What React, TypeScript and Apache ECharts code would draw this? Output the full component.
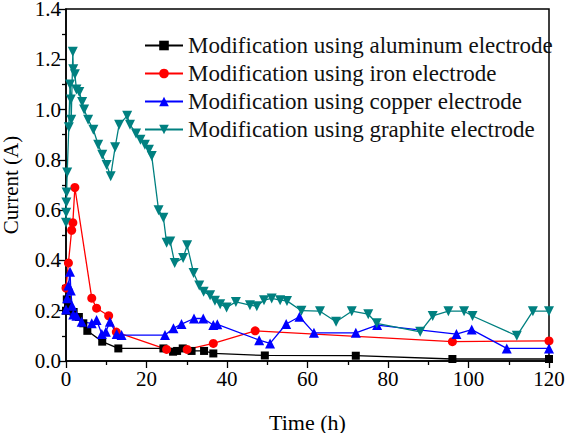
import React, { useEffect, useRef } from "react";
import * as echarts from "echarts";

const seriesNames = [
  "Modification using aluminum electrode",
  "Modification using iron electrode",
  "Modification using copper electrode",
  "Modification using graphite electrode",
];

const aluminum: [number, number][] = [
  [0, 0.2], [0.2, 0.245], [0.5, 0.22], [1, 0.2], [1.9, 0.195], [3.2, 0.175], [4.3, 0.15],
  [5.3, 0.12], [9, 0.077], [13, 0.05], [24.2, 0.05], [26.6, 0.037], [27.6, 0.04], [29, 0.05],
  [31.2, 0.04], [34.3, 0.04], [36.6, 0.03], [49.4, 0.022], [72, 0.021], [96, 0.008], [120, 0.008],
];

const iron: [number, number][] = [
  [0, 0.29], [0.6, 0.39], [1.4, 0.52], [1.7, 0.55], [2.2, 0.69], [6.4, 0.25], [7.6, 0.21],
  [10.6, 0.18], [12.5, 0.115], [25, 0.046], [30.1, 0.046], [36.6, 0.07], [47, 0.12], [96, 0.077],
  [120, 0.08],
];

const copper: [number, number][] = [
  [0, 0.205], [0.3, 0.25], [0.6, 0.3], [1.0, 0.355], [1.2, 0.28], [1.5, 0.22], [1.8, 0.185],
  [2.6, 0.18], [3.9, 0.156], [6.4, 0.15], [7.6, 0.163], [8.9, 0.107], [9.9, 0.116], [10.9, 0.156],
  [12.6, 0.107], [13.8, 0.103], [24.6, 0.103], [26.7, 0.13], [28.7, 0.147], [31.8, 0.169],
  [34.1, 0.169], [36.6, 0.143], [37.6, 0.146], [48, 0.083], [50.7, 0.07], [54.7, 0.147],
  [58, 0.176], [61.6, 0.112], [72, 0.112], [77.3, 0.143], [97, 0.107], [100.8, 0.125],
  [109.5, 0.05], [120, 0.05],
];

const graphite: [number, number][] = [
  [0, 0.55], [0.05, 0.59], [0.1, 0.63], [0.15, 0.67], [0.3, 0.75], [0.7, 0.93], [1.0, 1.1],
  [1.2, 1.04], [1.3, 0.96], [1.7, 1.23], [1.8, 1.16], [2.2, 1.14], [2.6, 1.08], [3.3, 1.07],
  [4.0, 1.03], [4.5, 1.0], [5.5, 0.96], [6.8, 0.92], [8.0, 0.86], [9.0, 0.82], [10.1, 0.78],
  [11.1, 0.735], [12.2, 0.85], [13.2, 0.94], [15.2, 0.975], [15.9, 0.94], [17.4, 0.905],
  [18.5, 0.88], [19.6, 0.86], [20.6, 0.84], [21.3, 0.815], [23.0, 0.6], [24.2, 0.57],
  [25.0, 0.47], [25.9, 0.475], [27.0, 0.39], [29.1, 0.41], [30.1, 0.46], [31.7, 0.35],
  [33.1, 0.3], [34.2, 0.275], [35.8, 0.262], [37.0, 0.24], [38.3, 0.226], [39.9, 0.213],
  [42.2, 0.235], [45.7, 0.222], [47.4, 0.218], [49.2, 0.242], [51.1, 0.249], [53.2, 0.242],
  [54.9, 0.239], [58.5, 0.2], [63.1, 0.198], [67.1, 0.156], [71, 0.198], [75.1, 0.186],
  [77.2, 0.15], [88, 0.116], [91.1, 0.179], [95, 0.198], [98.9, 0.198], [101, 0.179],
  [112, 0.1], [116, 0.198], [120, 0.198],
];

const colors = ["#000000", "#ff0000", "#0000ff", "#008080"];
const FONT = "Liberation Serif";

export default function App() {
  const ref = useRef<HTMLDivElement>(null);
  useEffect(() => {
    if (!ref.current) return;
    const chart = echarts.init(ref.current, undefined, { renderer: "svg" });
    const mk = (name: string, data: [number, number][], color: string, symbol: string, size: number, rotate = 0) => ({
      name,
      type: "line",
      data,
      symbol,
      symbolSize: size,
      symbolRotate: rotate,
      lineStyle: { color, width: 1.3 },
      itemStyle: { color },
      showSymbol: true,
    });
    chart.setOption({
      animation: false,
      backgroundColor: "#ffffff",
      textStyle: { fontFamily: FONT, color: "#000" },
      grid: {
        left: 66, right: 17, top: 9, bottom: 72,
        containLabel: false,
        outerBoundsMode: "none",
        show: true, borderColor: "#000", borderWidth: 1.5, backgroundColor: "transparent",
      },
      legend: {
        orient: "vertical",
        left: 139,
        top: 29,
        itemWidth: 38,
        itemHeight: 12,
        itemGap: 5,
        itemTextGap: 8,
        textStyle: { fontFamily: FONT, fontSize: 23, lineHeight: 22, color: "#111" },
        data: seriesNames,
      },
      xAxis: {
        type: "value",
        min: 0,
        max: 120,
        interval: 20,
        name: "Time (h)",
        nameLocation: "middle",
        nameGap: 50,
        nameTextStyle: { fontFamily: FONT, fontSize: 22, color: "#000" },
        axisLine: { show: true, lineStyle: { color: "#000", width: 1.5 } },
        axisTick: { show: true, inside: false, length: 7, lineStyle: { color: "#000", width: 1.3 } },
        minorTick: { show: true, splitNumber: 2, length: 4, lineStyle: { color: "#000", width: 1.3 } },
        axisLabel: { fontFamily: FONT, fontSize: 21, color: "#000", margin: 7 },
        splitLine: { show: false },
      },
      yAxis: {
        type: "value",
        min: 0,
        max: 1.4,
        interval: 0.2,
        name: "Current (A)",
        nameLocation: "middle",
        nameGap: 44,
        nameRotate: 90,
        nameTextStyle: { fontFamily: FONT, fontSize: 21, color: "#000", lineHeight: 22 },
        axisLine: { show: true, lineStyle: { color: "#000", width: 1.5 } },
        axisTick: { show: true, inside: false, length: 7, lineStyle: { color: "#000", width: 1.3 } },
        minorTick: { show: true, splitNumber: 2, length: 4, lineStyle: { color: "#000", width: 1.3 } },
        axisLabel: {
          fontFamily: FONT, fontSize: 21, color: "#000", margin: 5, lineHeight: 16,
          formatter: (v: number) => v.toFixed(1),
        },
        splitLine: { show: false },
      },
      series: [
        mk(seriesNames[0], aluminum, colors[0], "rect", 8),
        mk(seriesNames[1], iron, colors[1], "circle", 9),
        mk(seriesNames[2], copper, colors[2], "triangle", 10),
        mk(seriesNames[3], graphite, colors[3], "triangle", 10, 180),
      ],
    });
    return () => chart.dispose();
  }, []);
  return <div ref={ref} style={{ width: 566, height: 433, position: "absolute", left: 0, top: 0 }} />;
}
